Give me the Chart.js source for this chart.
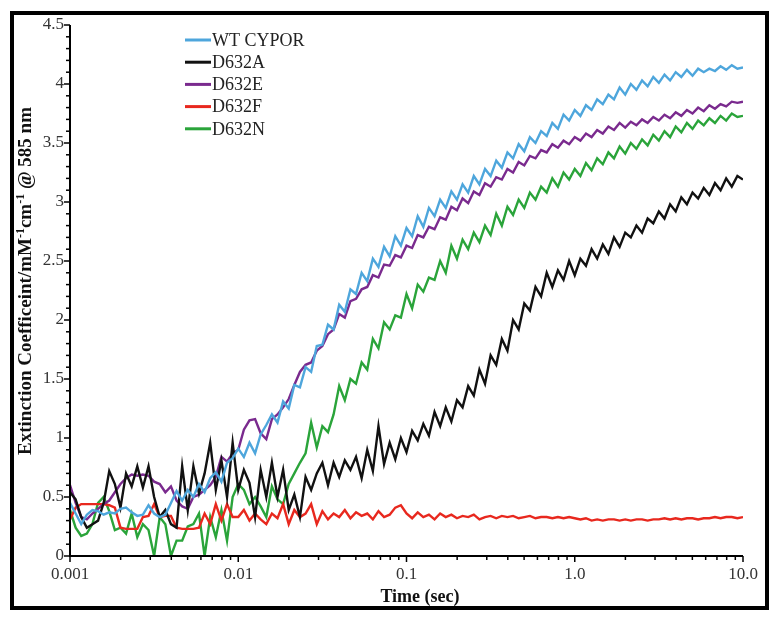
<!DOCTYPE html>
<html>
<head>
<meta charset="utf-8">
<script src="https://cdn.jsdelivr.net/npm/chart.js@4.4.1/dist/chart.umd.min.js"></script>
<style>
html,body{margin:0;padding:0;background:#fff;overflow:hidden;}
canvas{display:block;}
</style>
</head>
<body>
<canvas id="c" width="780" height="622"></canvas>
<script>
const times = [
0.001,0.00108,0.001166,0.001259,0.001359,0.001468,0.001585,0.001711,0.001848,0.001995,
0.002154,0.002326,0.002512,0.002712,0.002929,0.003162,0.003415,0.003687,0.003981,0.004299,
0.004642,0.005012,0.005412,0.005843,0.00631,0.006813,0.007356,0.007943,0.008577,0.009261,
0.01,0.0108,0.01166,0.01259,0.01359,0.01468,0.01585,0.01711,0.01848,0.01995,
0.02154,0.02326,0.02512,0.02712,0.02929,0.03162,0.03415,0.03687,0.03981,0.04299,
0.04642,0.05012,0.05412,0.05843,0.0631,0.06813,0.07356,0.07943,0.08577,0.09261,
0.1,0.108,0.1166,0.1259,0.1359,0.1468,0.1585,0.1711,0.1848,0.1995,
0.2154,0.2326,0.2512,0.2712,0.2929,0.3162,0.3415,0.3687,0.3981,0.4299,
0.4642,0.5012,0.5412,0.5843,0.631,0.6813,0.7356,0.7943,0.8577,0.9261,
1.0,1.08,1.166,1.259,1.359,1.468,1.585,1.711,1.848,1.995,
2.154,2.326,2.512,2.712,2.929,3.162,3.415,3.687,3.981,4.299,
4.642,5.012,5.412,5.843,6.31,6.813,7.356,7.943,8.577,9.261,
10.0];

const wtCypor = [
0.45,0.36,0.27,0.35,0.39,0.38,0.35,0.37,0.36,0.40,
0.41,0.37,0.34,0.35,0.43,0.36,0.33,0.35,0.45,0.55,
0.47,0.56,0.50,0.61,0.54,0.66,0.71,0.63,0.79,0.83,
0.91,0.84,0.96,0.87,1.03,1.11,1.20,1.13,1.31,1.25,
1.45,1.43,1.60,1.56,1.78,1.79,1.96,1.92,2.13,2.07,
2.26,2.22,2.40,2.33,2.52,2.45,2.62,2.54,2.71,2.63,
2.78,2.71,2.88,2.79,2.95,2.88,3.02,2.95,3.09,3.02,
3.15,3.08,3.22,3.15,3.28,3.22,3.35,3.29,3.42,3.37,
3.49,3.43,3.55,3.50,3.60,3.56,3.67,3.62,3.74,3.69,
3.78,3.73,3.82,3.78,3.87,3.83,3.91,3.87,3.97,3.91,
4.00,3.95,4.03,3.98,4.06,4.01,4.08,4.03,4.10,4.06,
4.12,4.07,4.13,4.10,4.13,4.11,4.15,4.12,4.16,4.13,
4.14];

const d632A = [
0.54,0.48,0.33,0.24,0.27,0.30,0.45,0.72,0.61,0.41,
0.70,0.59,0.76,0.58,0.76,0.50,0.33,0.39,0.27,0.24,
0.76,0.39,0.76,0.53,0.70,0.96,0.56,0.81,0.50,0.96,
0.56,0.73,0.62,0.33,0.73,0.50,0.79,0.50,0.73,0.39,
0.52,0.33,0.67,0.56,0.70,0.79,0.60,0.79,0.67,0.81,
0.73,0.84,0.66,0.90,0.72,1.10,0.78,0.96,0.82,1.00,
0.88,1.06,0.98,1.12,1.02,1.22,1.10,1.26,1.14,1.32,
1.26,1.44,1.36,1.58,1.46,1.70,1.62,1.84,1.74,2.00,
1.92,2.14,2.08,2.28,2.20,2.40,2.28,2.42,2.34,2.50,
2.38,2.52,2.46,2.60,2.52,2.64,2.56,2.70,2.62,2.74,
2.70,2.80,2.74,2.86,2.82,2.92,2.86,2.98,2.92,3.04,
2.98,3.08,3.03,3.12,3.06,3.16,3.10,3.20,3.13,3.22,
3.19];

const d632E = [
0.60,0.45,0.33,0.31,0.36,0.40,0.44,0.47,0.54,0.61,
0.66,0.69,0.68,0.69,0.68,0.63,0.61,0.54,0.59,0.47,
0.42,0.40,0.50,0.52,0.56,0.60,0.67,0.84,0.80,0.87,
0.90,1.07,1.15,1.16,1.04,0.99,1.16,1.20,1.26,1.33,
1.45,1.56,1.62,1.64,1.74,1.78,1.88,1.92,2.05,2.02,
2.16,2.18,2.26,2.28,2.38,2.36,2.47,2.46,2.55,2.53,
2.63,2.61,2.72,2.70,2.79,2.77,2.87,2.85,2.96,2.93,
3.03,2.99,3.09,3.06,3.16,3.13,3.21,3.19,3.28,3.25,
3.34,3.31,3.39,3.37,3.44,3.42,3.49,3.46,3.52,3.49,
3.55,3.52,3.58,3.55,3.61,3.58,3.64,3.61,3.67,3.63,
3.68,3.65,3.70,3.67,3.72,3.69,3.74,3.71,3.76,3.73,
3.78,3.75,3.80,3.77,3.82,3.79,3.83,3.81,3.85,3.84,
3.85];

const d632F = [
0.31,0.41,0.44,0.44,0.44,0.44,0.44,0.43,0.41,0.24,
0.23,0.23,0.23,0.33,0.34,0.44,0.33,0.34,0.34,0.24,
0.23,0.23,0.23,0.24,0.36,0.27,0.44,0.30,0.44,0.33,
0.33,0.39,0.30,0.36,0.31,0.27,0.36,0.32,0.44,0.27,
0.39,0.33,0.36,0.44,0.27,0.38,0.31,0.36,0.33,0.39,
0.32,0.37,0.34,0.36,0.31,0.38,0.33,0.35,0.41,0.43,
0.36,0.32,0.37,0.33,0.35,0.31,0.36,0.33,0.35,0.32,
0.34,0.33,0.35,0.31,0.33,0.34,0.32,0.34,0.33,0.34,
0.32,0.33,0.34,0.32,0.33,0.33,0.32,0.33,0.32,0.33,
0.32,0.31,0.32,0.30,0.31,0.30,0.31,0.31,0.30,0.31,
0.30,0.31,0.31,0.30,0.31,0.31,0.32,0.31,0.32,0.31,
0.32,0.32,0.31,0.32,0.32,0.33,0.32,0.33,0.33,0.32,
0.33];

const d632N = [
0.39,0.24,0.17,0.19,0.27,0.45,0.50,0.38,0.22,0.24,
0.19,0.36,0.16,0.27,0.22,0.00,0.33,0.27,0.00,0.13,
0.13,0.25,0.27,0.36,0.00,0.33,0.16,0.39,0.13,0.50,
0.61,0.56,0.44,0.50,0.42,0.33,0.59,0.48,0.44,0.61,
0.70,0.79,0.87,1.13,0.92,1.10,1.05,1.20,1.44,1.32,
1.50,1.46,1.64,1.58,1.84,1.76,1.98,1.92,2.04,2.02,
2.22,2.10,2.30,2.24,2.36,2.34,2.50,2.40,2.63,2.52,
2.68,2.60,2.74,2.66,2.80,2.72,2.90,2.80,2.96,2.89,
3.02,2.95,3.08,3.02,3.13,3.08,3.20,3.13,3.25,3.19,
3.28,3.22,3.33,3.27,3.37,3.32,3.42,3.37,3.47,3.41,
3.50,3.45,3.53,3.48,3.57,3.52,3.60,3.55,3.64,3.59,
3.67,3.62,3.69,3.65,3.71,3.67,3.73,3.69,3.75,3.72,
3.73];

const seriesNames = ["WT CYPOR","D632A","D632E","D632F","D632N"];
const seriesColors = ["#4ea6dc","#111111","#7a2a8e","#e8281e","#2aa43a"];
const seriesValues = [wtCypor,d632A,d632E,d632F,d632N];

const xTickValues = [0.001,0.01,0.1,1,10];
const xTickLabels = ["0.001","0.01","0.1","1.0","10.0"];
const yTickValues = [0,0.5,1,1.5,2,2.5,3,3.5,4,4.5];
const yTickLabels = ["0","0.5","1","1.5","2","2.5","3","3.5","4","4.5"];

const datasets = seriesNames.map((name,k)=>({
  label:name,
  data: times.map((t,i)=>({x:t,y:seriesValues[k][i]})),
  borderColor: seriesColors[k],
  backgroundColor: seriesColors[k],
  borderWidth: 2.4,
  pointRadius: 0,
  tension: 0,
  fill: false
}));

const decor = {
  id:'decor',
  beforeDraw(chart){
    const ctx = chart.ctx;
    ctx.save();
    ctx.fillStyle='#fff';
    ctx.fillRect(0,0,chart.width,chart.height);
    ctx.restore();
  },
  afterDraw(chart){
    const {ctx, chartArea:ca, scales:{x,y}} = chart;
    ctx.save();
    ctx.strokeStyle='#000';
    ctx.lineWidth=2;
    ctx.beginPath();
    ctx.moveTo(ca.left, ca.top); ctx.lineTo(ca.left, ca.bottom); ctx.lineTo(ca.right, ca.bottom);
    ctx.stroke();
    ctx.lineWidth=1.5;
    for(let v=0; v<=45; v++){
      const py = y.getPixelForValue(v/10);
      const len = (v%5===0)?6:4;
      ctx.beginPath(); ctx.moveTo(ca.left-len, py); ctx.lineTo(ca.left, py); ctx.stroke();
    }
    for(let d=0; d<xTickValues.length; d++){
      const base = xTickValues[d];
      const maxM = (d===xTickValues.length-1)?1:9;
      for(let m=1; m<=maxM; m++){
        const px = x.getPixelForValue(base*m);
        const len = (m===1)?6:4;
        ctx.beginPath(); ctx.moveTo(px, ca.bottom); ctx.lineTo(px, ca.bottom+len); ctx.stroke();
      }
    }
    ctx.font = '18px "Liberation Serif"';
    ctx.textBaseline='middle';
    ctx.textAlign='left';
    chart.data.datasets.forEach((ds,i)=>{
      const ly = 40 + i*22.2;
      ctx.strokeStyle = ds.borderColor;
      ctx.lineWidth = 3;
      ctx.beginPath(); ctx.moveTo(185, ly); ctx.lineTo(211, ly); ctx.stroke();
      ctx.fillStyle = '#222';
      ctx.fillText(ds.label, 212, ly+1);
    });
    ctx.fillStyle='#111';
    ctx.font='bold 18px "Liberation Serif"';
    ctx.textAlign='center';
    ctx.textBaseline='alphabetic';
    ctx.fillText('Time (sec)', 420, 602);
    const segs = [
      ['Extinction Coefficeint/mM', false],
      ['-1', true],
      ['cm', false],
      ['-1', true],
      [' @ 585 nm', false]
    ];
    const mainF='bold 19px "Liberation Serif"', supF='bold 12px "Liberation Serif"';
    let total=0;
    segs.forEach(s=>{ ctx.font = s[1]?supF:mainF; total += ctx.measureText(s[0]).width; });
    ctx.translate(31, 281);
    ctx.rotate(-Math.PI/2);
    ctx.textAlign='left';
    let cx = -total/2;
    segs.forEach(s=>{
      ctx.font = s[1]?supF:mainF;
      ctx.fillText(s[0], cx, s[1]?-7:0);
      cx += ctx.measureText(s[0]).width;
    });
    ctx.restore();
    ctx.save();
    ctx.strokeStyle='#000';
    ctx.lineWidth=4;
    ctx.strokeRect(12,13,755,595);
    ctx.restore();
  }
};

new Chart(document.getElementById('c'), {
  type:'line',
  data:{datasets},
  options:{
    responsive:false,
    animation:false,
    layout:{padding:{left:0,right:37,top:25,bottom:0}},
    plugins:{legend:{display:false},tooltip:{enabled:false}},
    scales:{
      x:{
        type:'logarithmic',
        min:0.001, max:10,
        grid:{display:false, drawTicks:false},
        border:{display:false},
        afterBuildTicks(s){ s.ticks = xTickValues.map(v=>({value:v})); },
        afterFit(s){ s.height = 66; },
        ticks:{
          autoSkip:false, maxRotation:0, padding:8,
          color:'#333',
          font:{family:'"Liberation Serif"', size:17},
          callback(v){ const i = xTickValues.findIndex(t=>Math.abs(t-v)/t<1e-6); return i>=0?xTickLabels[i]:''; }
        }
      },
      y:{
        type:'linear',
        min:0, max:4.5,
        grid:{display:false, drawTicks:false},
        border:{display:false},
        afterBuildTicks(s){ s.ticks = yTickValues.map(v=>({value:v})); },
        afterFit(s){ s.width = 70; },
        ticks:{
          autoSkip:false, padding:6,
          color:'#333',
          font:{family:'"Liberation Serif"', size:17},
          callback(v){ const i = yTickValues.findIndex(t=>Math.abs(t-v)<1e-9); return i>=0?yTickLabels[i]:''; }
        }
      }
    }
  },
  plugins:[decor]
});
</script>
</body>
</html>
